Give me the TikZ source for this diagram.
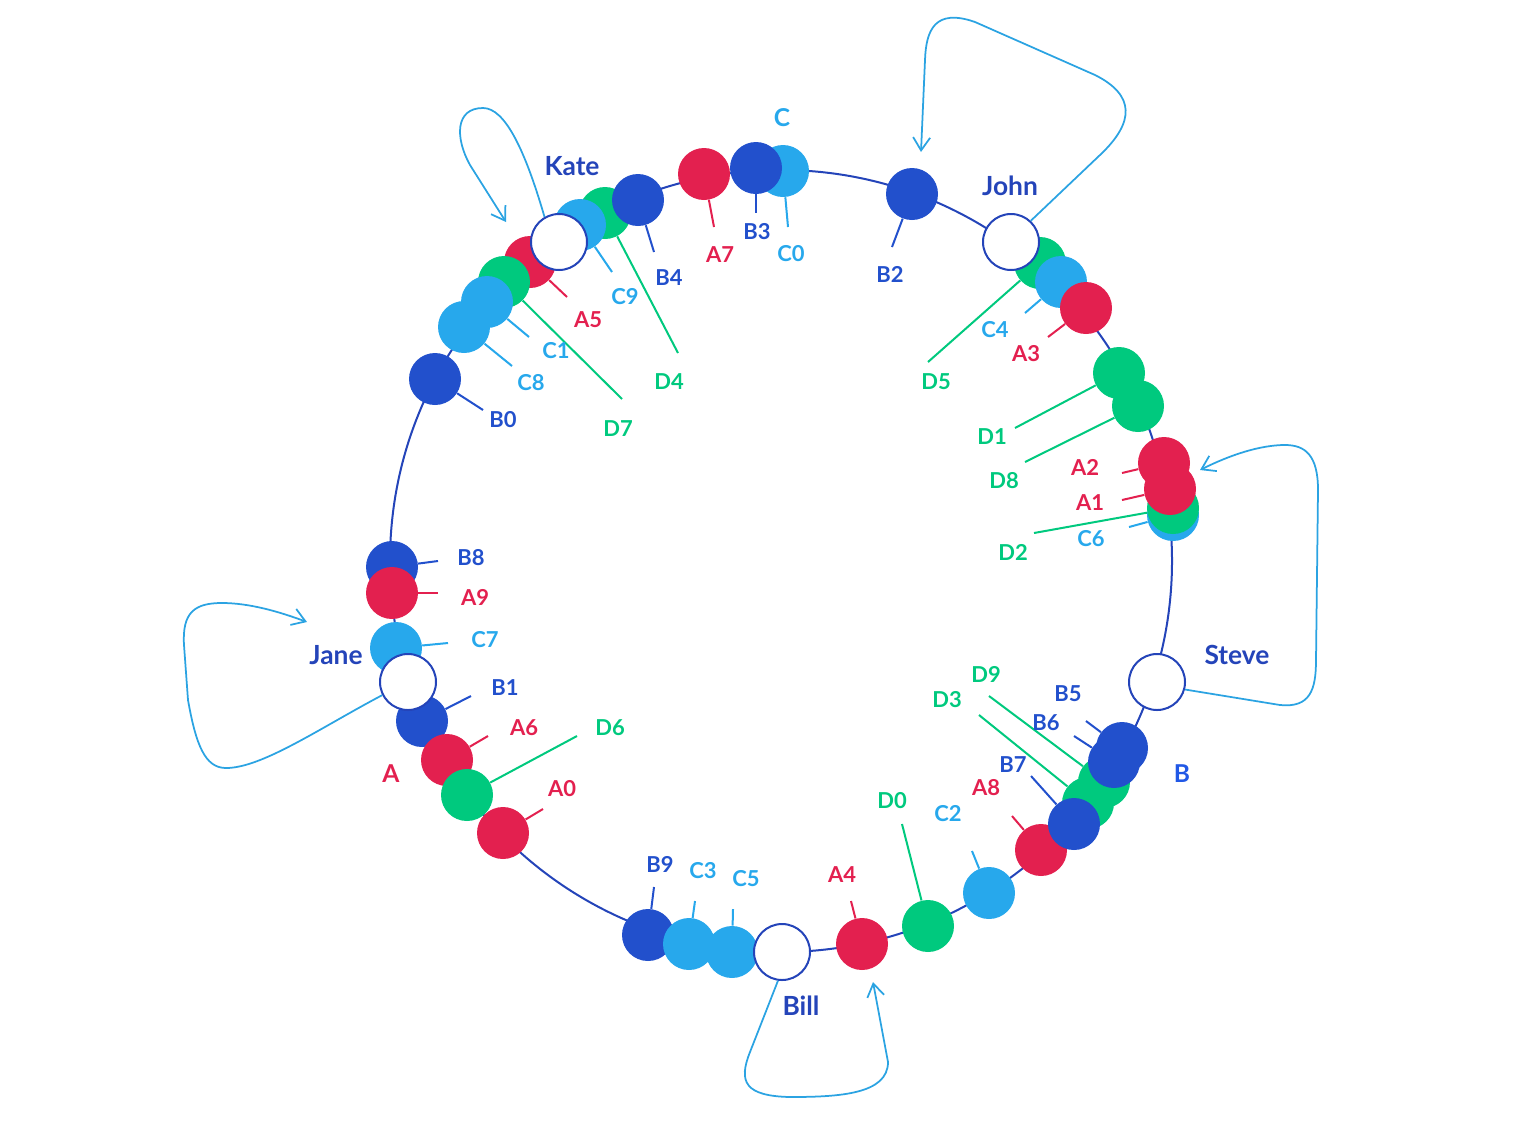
\documentclass[tikz,border=0pt]{standalone}
\usepackage{fontspec}
\setmainfont{Lato}
\usepackage{tikz}
\usepackage{xcolor}
\usetikzlibrary{arrows.meta,backgrounds}

\definecolor{ared}{HTML}{E3204F}
\definecolor{bblue}{HTML}{2250CC}
\definecolor{clight}{HTML}{27A8EC}
\definecolor{dgreen}{HTML}{00C97E}
\definecolor{ringblue}{HTML}{2444B9}
\definecolor{hopblue}{HTML}{2BA3E2}
\definecolor{grpblue}{HTML}{2158E6}

\tikzset{
  tok/.style={circle,inner sep=0pt,minimum size=10.4mm},
  atok/.style={tok,fill=ared},
  btok/.style={tok,fill=bblue},
  ctok/.style={tok,fill=clight},
  dtok/.style={tok,fill=dgreen},
  peer/.style={circle,inner sep=0pt,minimum size=11.2mm,draw=ringblue,line width=0.4mm,fill=white},
  atail/.style={draw=ared,line width=0.4mm},
  btail/.style={draw=bblue,line width=0.4mm},
  ctail/.style={draw=clight,line width=0.4mm},
  dtail/.style={draw=dgreen,line width=0.4mm},
  txt/.style={inner sep=0pt,font=\fontsize{12.5}{14}\selectfont\bfseries},
  atext/.style={txt,text=ared},
  btext/.style={txt,text=bblue},
  ctext/.style={txt,text=clight},
  dtext/.style={txt,text=dgreen},
  grptext/.style={inner sep=0pt,font=\fontsize{14}{16}\selectfont\bfseries},
  peertext/.style={inner sep=0pt,text=ringblue,font=\fontsize{15}{17}\selectfont\bfseries},
  ringline/.style={draw=ringblue,line width=0.4mm},
  hop/.style={draw=hopblue,line width=0.35mm,-{Straight Barb[length=2.6mm,width=3.4mm]}}
}

\begin{document}
\begin{tikzpicture}[x=0.2mm,y=-0.2mm]
\useasboundingbox (0,0) rectangle (1525,1144);
\path
    (605,213) node [dtok] (d4) {}
    (638,200) node [btok] (b4) {}
    (580,225) node [ctok] (c9) {}
    (530,262) node [atok] (a5) {}
    (559,242) node [peer] (kate) {}
    (504,282) node [dtok] (d7) {}
    (487,302) node [ctok] (c1) {}
    (464,327) node [ctok] (c8) {}
    (435,379) node [btok] (b0) {}
    (704,174) node [atok] (a7) {}
    (783,171) node [ctok] (c0) {}
    (756,168) node [btok] (b3) {}
    (912,194) node [btok] (b2) {}
    (1040,263) node [dtok] (d5) {}
    (1011,242) node [peer] (john) {}
    (1061,282) node [ctok] (c4) {}
    (1086,308) node [atok] (a3) {}
    (1119,373) node [dtok] (d1) {}
    (1138,406) node [dtok] (d8) {}
    (1173,515) node [ctok] (c6) {}
    (1173,508) node [dtok] (d2) {}
    (1164,463) node [atok] (a2) {}
    (1170,489) node [atok] (a1) {}
    (1157,682) node [peer] (steve) {}
    (1088,803) node [dtok] (d3) {}
    (1104,782) node [dtok] (d9) {}
    (1114,762) node [btok] (b6) {}
    (1122,748) node [btok] (b5) {}
    (1041,850) node [atok] (a8) {}
    (1074,824) node [btok] (b7) {}
    (989,893) node [ctok] (c2) {}
    (928,926) node [dtok] (d0) {}
    (862,944) node [atok] (a4) {}
    (648,935) node [btok] (b9) {}
    (689,944) node [ctok] (c3) {}
    (732,952) node [ctok] (c5) {}
    (782,952) node [peer] (bill) {}
    (392,567) node [btok] (b8) {}
    (392,593) node [atok] (a9) {}
    (396,648) node [ctok] (c7) {}
    (422,721) node [btok] (b1) {}
    (408,682) node [peer] (jane) {}
    (447,760) node [atok] (a6) {}
    (467,795) node [dtok] (d6) {}
    (503,833) node [atok] (a0) {};
\path
    (483,410) coordinate (b0 end) (503,420) node [btext] (b0 label) {B0}
    (512,366) coordinate (c8 end) (531,383) node [ctext] (c8 label) {C8}
    (529,337) coordinate (c1 end) (556,351) node [ctext] (c1 label) {C1}
    (622,399) coordinate (d7 end) (618,429) node [dtext] (d7 label) {D7}
    (567,297) coordinate (a5 end) (588,320) node [atext] (a5 label) {A5}
    (612,272) coordinate (c9 end) (625,297) node [ctext] (c9 label) {C9}
    (678,353) coordinate (d4 end) (669,382) node [dtext] (d4 label) {D4}
    (654,252) coordinate (b4 end) (669,278) node [btext] (b4 label) {B4}
    (714,227) coordinate (a7 end) (720,255) node [atext] (a7 label) {A7}
    (756,213) coordinate (b3 end) (757,232) node [btext] (b3 label) {B3}
    (788,227) coordinate (c0 end) (791,254) node [ctext] (c0 label) {C0}
    (892,247) coordinate (b2 end) (890,274) node [btext] (b2 label) {B2}
    (928,362) coordinate (d5 end) (936,382) node [dtext] (d5 label) {D5}
    (1025,313) coordinate (c4 end) (995,330) node [ctext] (c4 label) {C4}
    (1048,337) coordinate (a3 end) (1026,354) node [atext] (a3 label) {A3}
    (1015,428) coordinate (d1 end) (992,437) node [dtext] (d1 label) {D1}
    (1025,462) coordinate (d8 end) (1004,481) node [dtext] (d8 label) {D8}
    (1122,473) coordinate (a2 end) (1085,467) node [atext] (a2 label) {A2}
    (1122,500) coordinate (a1 end) (1090,503) node [atext] (a1 label) {A1}
    (1034,533) coordinate (d2 end) (1013,552) node [dtext] (d2 label) {D2}
    (1129,527) coordinate (c6 end) (1091,539) node [ctext] (c6 label) {C6}
    (1086,721) coordinate (b5 end) (1068,694) node [btext] (b5 label) {B5}
    (1074,736) coordinate (b6 end) (1046,723) node [btext] (b6 label) {B6}
    (989,696) coordinate (d9 end) (986,674) node [dtext] (d9 label) {D9}
    (979,715) coordinate (d3 end) (947,700) node [dtext] (d3 label) {D3}
    (1031,776) coordinate (b7 end) (1013,765) node [btext] (b7 label) {B7}
    (1012,816) coordinate (a8 end) (986,788) node [atext] (a8 label) {A8}
    (972,851) coordinate (c2 end) (948,814) node [ctext] (c2 label) {C2}
    (902,824) coordinate (d0 end) (892,801) node [dtext] (d0 label) {D0}
    (851,901) coordinate (a4 end) (842,875) node [atext] (a4 label) {A4}
    (733,909) coordinate (c5 end) (746,879) node [ctext] (c5 label) {C5}
    (695,901) coordinate (c3 end) (703,871) node [ctext] (c3 label) {C3}
    (654,887) coordinate (b9 end) (660,864) node [btext] (b9 label) {B9}
    (543,809) coordinate (a0 end) (562,789) node [atext] (a0 label) {A0}
    (577,736) coordinate (d6 end) (610,728) node [dtext] (d6 label) {D6}
    (488,736) coordinate (a6 end) (524,728) node [atext] (a6 label) {A6}
    (471,696) coordinate (b1 end) (505,688) node [btext] (b1 label) {B1}
    (448,643) coordinate (c7 end) (485,640) node [ctext] (c7 label) {C7}
    (438,593) coordinate (a9 end) (475,597) node [atext] (a9 label) {A9}
    (438,561) coordinate (b8 end) (471,558) node [btext] (b8 label) {B8};
\path
    (782,118) node [grptext,text=clight] (c group) {C}
    (391,774) node [grptext,text=ared] (a group) {A}
    (1182,774) node [grptext,text=grpblue] (b group) {B}
    (572,166) node [peertext] (kate label) {Kate}
    (1010,186) node [peertext] (john label) {John}
    (1237,655) node [peertext] (steve label) {Steve}
    (801,1006) node [peertext] (bill label) {Bill}
    (336,655) node [peertext] (jane label) {Jane};
\begin{scope}[on background layer]
\draw [ringline] (781,561) circle [radius=78.2mm];
\draw [btail] (b0) -- (b0 end);
\draw [ctail] (c8) -- (c8 end);
\draw [ctail] (c1) -- (c1 end);
\draw [dtail] (d7) -- (d7 end);
\draw [atail] (a5) -- (a5 end);
\draw [ctail] (c9) -- (c9 end);
\draw [dtail] (d4) -- (d4 end);
\draw [btail] (b4) -- (b4 end);
\draw [atail] (a7) -- (a7 end);
\draw [btail] (b3) -- (b3 end);
\draw [ctail] (c0) -- (c0 end);
\draw [btail] (b2) -- (b2 end);
\draw [dtail] (d5) -- (d5 end);
\draw [ctail] (c4) -- (c4 end);
\draw [atail] (a3) -- (a3 end);
\draw [dtail] (d1) -- (d1 end);
\draw [dtail] (d8) -- (d8 end);
\draw [atail] (a2) -- (a2 end);
\draw [atail] (a1) -- (a1 end);
\draw [dtail] (d2) -- (d2 end);
\draw [ctail] (c6) -- (c6 end);
\draw [btail] (b5) -- (b5 end);
\draw [btail] (b6) -- (b6 end);
\draw [dtail] (d9) -- (d9 end);
\draw [dtail] (d3) -- (d3 end);
\draw [btail] (b7) -- (b7 end);
\draw [atail] (a8) -- (a8 end);
\draw [ctail] (c2) -- (c2 end);
\draw [dtail] (d0) -- (d0 end);
\draw [atail] (a4) -- (a4 end);
\draw [ctail] (c5) -- (c5 end);
\draw [ctail] (c3) -- (c3 end);
\draw [btail] (b9) -- (b9 end);
\draw [atail] (a0) -- (a0 end);
\draw [dtail] (d6) -- (d6 end);
\draw [atail] (a6) -- (a6 end);
\draw [btail] (b1) -- (b1 end);
\draw [ctail] (c7) -- (c7 end);
\draw [atail] (a9) -- (a9 end);
\draw [btail] (b8) -- (b8 end);
\end{scope}
\path (506,222) coordinate (kate in)
    (921,152) coordinate (john in)
    (1200,470) coordinate (steve in)
    (873,982) coordinate (bill in)
    (307,622) coordinate (jane in);
\draw [hop] (kate.120) .. controls (525,150) and (505,108) .. (483,108)
    .. controls (455,108) and (455,138) .. (470,165) -- (kate in);
\draw [hop] (john.47) -- (1100,155) .. controls (1135,122) and (1135,95) .. (1095,75)
    -- (975,22) .. controls (935,8) and (926,30) .. (925,60) -- (john in);
\draw [hop] (steve.-15) -- (1280,705) .. controls (1310,708) and (1316,690) .. (1316,660)
    -- (1318,490) .. controls (1318,455) and (1305,445) .. (1285,445)
    .. controls (1260,445) and (1230,455) .. (steve in);
\draw [hop] (bill.-98) -- (750,1052) .. controls (738,1082) and (745,1096) .. (790,1097)
    .. controls (840,1097) and (888,1094) .. (888,1062) -- (bill in);
\draw [hop] (jane.207) .. controls (320,728) and (262,768) .. (226,768)
    .. controls (205,768) and (196,745) .. (188,700) -- (184,645)
    .. controls (182,612) and (195,603) .. (222,603)
    .. controls (250,603) and (280,612) .. (jane in);
\end{tikzpicture}
\end{document}
